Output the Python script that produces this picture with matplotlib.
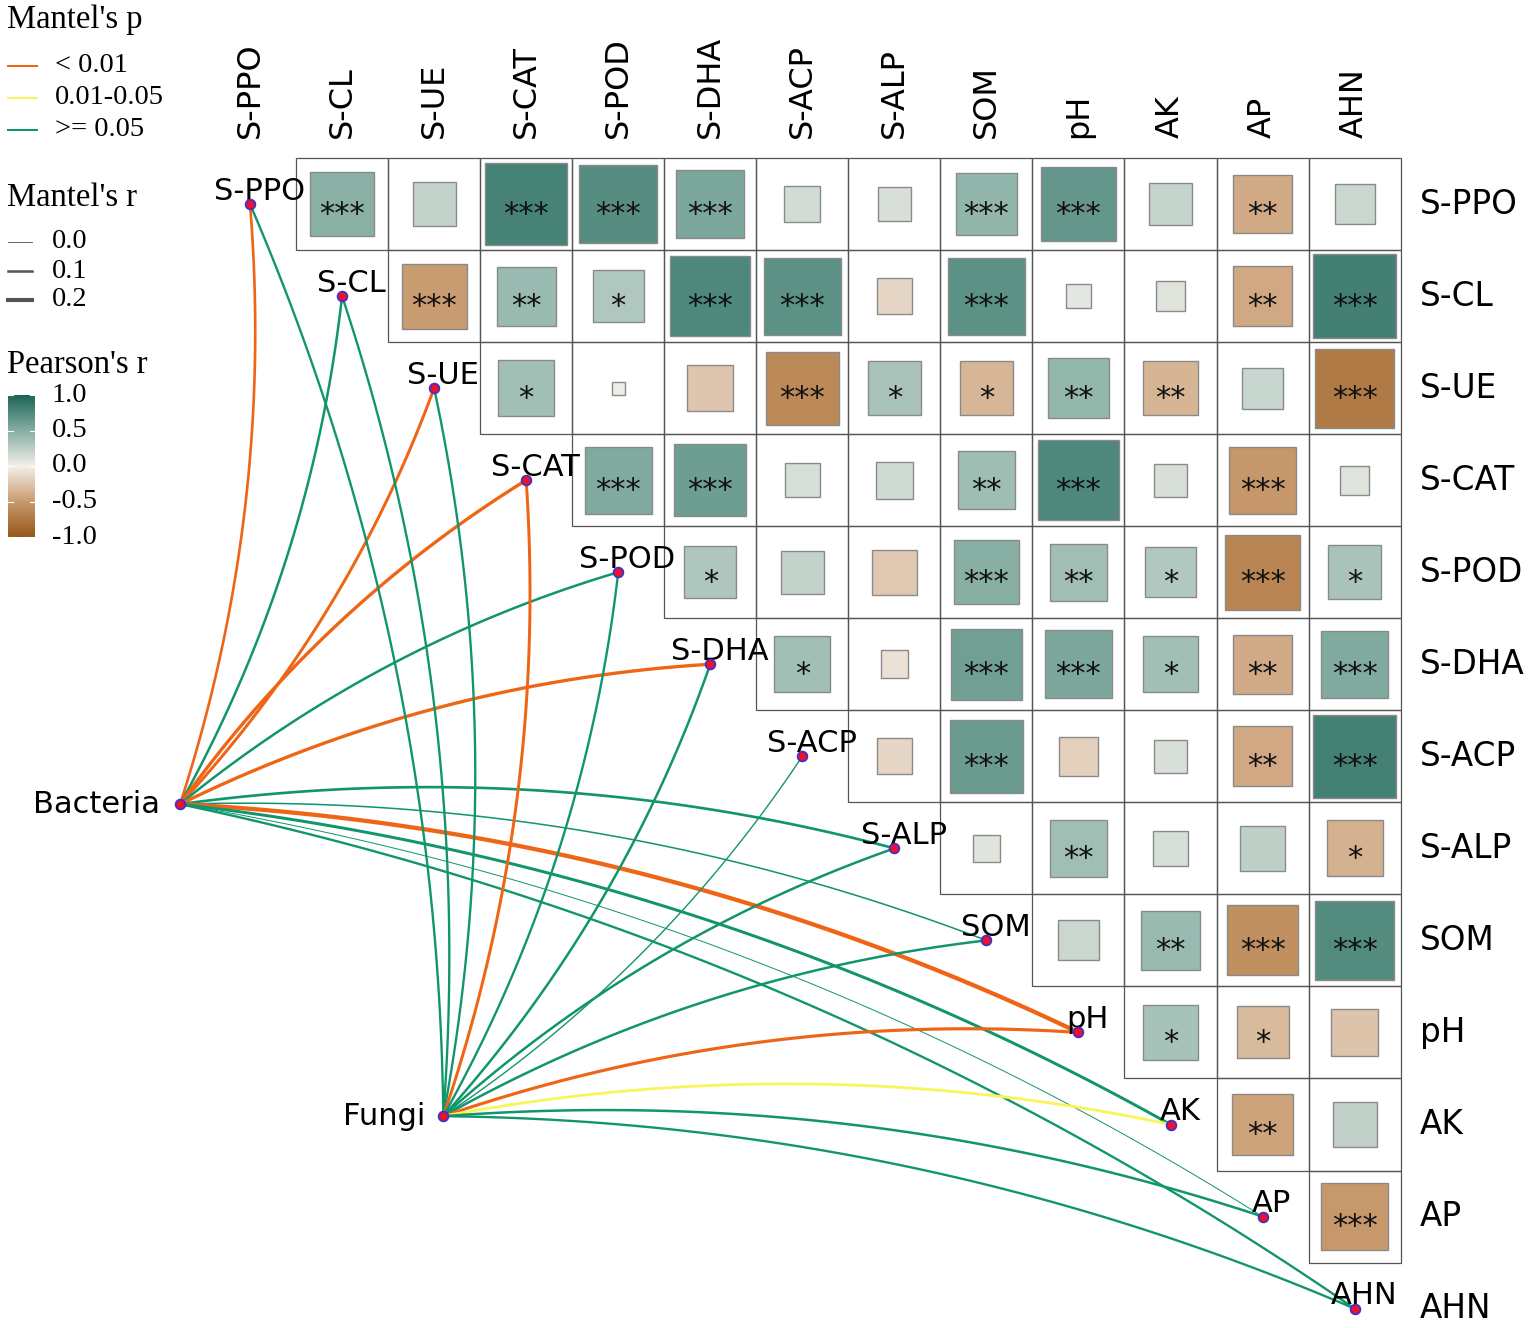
import numpy as np
import matplotlib
matplotlib.use("Agg")
import matplotlib.pyplot as plt
from matplotlib.colors import LinearSegmentedColormap, Normalize
from matplotlib.patches import Rectangle
from matplotlib.lines import Line2D

# ---------------- data ----------------
variables = ["S-PPO", "S-CL", "S-UE", "S-CAT", "S-POD", "S-DHA", "S-ACP",
             "S-ALP", "SOM", "pH", "AK", "AP", "AHN"]

# Pearson's r, upper triangle: row i holds values for columns i+1 .. end
r_ppo = [0.48, 0.22, 0.80, 0.72, 0.55, 0.15, 0.13, 0.44, 0.66, 0.21, -0.41, 0.19]
r_cl = [-0.50, 0.41, 0.31, 0.76, 0.70, -0.15, 0.70, 0.07, 0.10, -0.42, 0.82]
r_ue = [0.37, 0.02, -0.25, -0.63, 0.34, -0.34, 0.43, -0.35, 0.20, -0.74]
r_cat = [0.53, 0.61, 0.14, 0.16, 0.39, 0.76, 0.13, -0.53, 0.10]
r_pod = [0.32, 0.22, -0.24, 0.49, 0.38, 0.30, -0.66, 0.34]
r_dha = [0.37, -0.09, 0.60, 0.54, 0.37, -0.41, 0.53]
r_acp = [-0.15, 0.62, -0.18, 0.13, -0.42, 0.81]
r_alp = [0.09, 0.38, 0.14, 0.24, -0.37]
r_som = [0.19, 0.41, -0.58, 0.74]
r_ph = [0.35, -0.32, -0.26]
r_ak = [-0.45, 0.23]
r_ap = [-0.52]
r_rows = [r_ppo, r_cl, r_ue, r_cat, r_pod, r_dha, r_acp, r_alp, r_som, r_ph, r_ak, r_ap, []]

s_ppo = ["***", "", "***", "***", "***", "", "", "***", "***", "", "**", ""]
s_cl = ["***", "**", "*", "***", "***", "", "***", "", "", "**", "***"]
s_ue = ["*", "", "", "***", "*", "*", "**", "**", "", "***"]
s_cat = ["***", "***", "", "", "**", "***", "", "***", ""]
s_pod = ["*", "", "", "***", "**", "*", "***", "*"]
s_dha = ["*", "", "***", "***", "*", "**", "***"]
s_acp = ["", "***", "", "", "**", "***"]
s_alp = ["", "**", "", "", "*"]
s_som = ["", "**", "***", "***"]
s_ph = ["*", "*", ""]
s_ak = ["**", ""]
s_ap = ["***"]
star_rows = [s_ppo, s_cl, s_ue, s_cat, s_pod, s_dha, s_acp, s_alp, s_som, s_ph, s_ak, s_ap, []]

# Mantel test links
bac_env = ["S-PPO", "S-CL", "S-UE", "S-CAT", "S-POD", "S-DHA", "S-ALP",
           "SOM", "pH", "AK", "AP", "AHN"]
bac_r = [0.11, 0.10, 0.13, 0.15, 0.10, 0.15, 0.11, 0.04, 0.21, 0.13, 0.005, 0.09]
bac_p = ["< 0.01", ">= 0.05", "< 0.01", "< 0.01", ">= 0.05", "< 0.01", ">= 0.05",
         ">= 0.05", "< 0.01", ">= 0.05", ">= 0.05", ">= 0.05"]

fun_env = ["S-PPO", "S-CL", "S-UE", "S-CAT", "S-POD", "S-DHA", "S-ACP", "S-ALP",
           "SOM", "pH", "AK", "AP", "AHN"]
fun_r = [0.09, 0.09, 0.09, 0.13, 0.09, 0.10, 0.03, 0.10, 0.10, 0.14, 0.12, 0.10, 0.09]
fun_p = [">= 0.05", ">= 0.05", ">= 0.05", "< 0.01", ">= 0.05", ">= 0.05", ">= 0.05",
         ">= 0.05", ">= 0.05", "< 0.01", "0.01-0.05", ">= 0.05", ">= 0.05"]

p_levels = ["< 0.01", "0.01-0.05", ">= 0.05"]
p_colors = ["#EE6516", "#F8F55C", "#10956C"]
r_legend = [0.0, 0.1, 0.2]
cbar_ticks = [1.0, 0.5, 0.0, -0.5, -1.0]

# ---------------- layout ----------------
W, H = 1535, 1328
CELL = 92.05
X0, Y0 = 250, 204
n = len(variables)
bac_pos = (-0.76, -6.52)
fun_pos = (2.10, -9.91)

cmap = LinearSegmentedColormap.from_list(
    "pearson",
    [(0.0, "#965718"), (0.25, "#C99B70"), (0.5, "#F3F0EA"), (0.75, "#86AEA3"), (1.0, "#1D6558")])
norm = Normalize(-1, 1)

fig = plt.figure(figsize=(W / 100, H / 100), dpi=100)
ax = fig.add_axes([0, 0, 1, 1])
ax.set_xlim(-X0 / CELL, (W - X0) / CELL)
ax.set_ylim(-(H - Y0) / CELL, Y0 / CELL)
ax.axis("off")

LABEL_FONT = "DejaVu Sans"
SERIF = "Liberation Serif"


def px_to_lw(px):
    return px * 72 / 100


def r_to_lw(r):
    return px_to_lw(0.9 + 16 * r)


# heatmap
for i in range(n):
    for k, j in enumerate(range(i + 1, n)):
        r = r_rows[i][k]
        ax.add_patch(Rectangle((j - 0.5, -i - 0.5), 1, 1, fill=False,
                               edgecolor="#555555", lw=0.9, zorder=2))
        side = np.sqrt(abs(r))
        ax.add_patch(Rectangle((j - side / 2, -i - side / 2), side, side,
                               facecolor=cmap(norm(r)), edgecolor="#8a8a8a",
                               lw=1.0, zorder=3))
        st = star_rows[i][k]
        if st:
            ax.text(j, -i - 0.11, st, ha="center", va="center", fontsize=22,
                    family=LABEL_FONT, color="#111111", zorder=4)

# column labels (top) and row labels (right)
for j, name in enumerate(variables):
    ax.text(j, 0.72, name, rotation=90, ha="center", va="bottom",
            fontsize=23, family=LABEL_FONT)
for i, name in enumerate(variables):
    ax.text(12.71, -i, name, ha="left", va="center", fontsize=23.5,
            family=LABEL_FONT)

# mantel curves
def curve(p0, p1, k=0.1, m=80):
    p0 = np.array(p0, float)
    p1 = np.array(p1, float)
    d = p1 - p0
    L = np.hypot(*d)
    nrm = np.array([-d[1], d[0]]) / L
    if nrm[0] + nrm[1] < 0:
        nrm = -nrm
    c = (p0 + p1) / 2 + nrm * k * L
    t = np.linspace(0, 1, m)[:, None]
    pts = (1 - t) ** 2 * p0 + 2 * (1 - t) * t * c + t ** 2 * p1
    return pts[:, 0], pts[:, 1]


def diag(name):
    i = variables.index(name)
    return (i, -i)


for src, envs, rs, ps in [(bac_pos, bac_env, bac_r, bac_p),
                          (fun_pos, fun_env, fun_r, fun_p)]:
    for e, r, p in zip(envs, rs, ps):
        x, y = curve(src, diag(e))
        ax.plot(x, y, color=p_colors[p_levels.index(p)], lw=r_to_lw(r),
                solid_capstyle="round", zorder=5)

# diagonal labels and points
for i, name in enumerate(variables):
    ax.text(i + 0.1, -i + 0.14, name, ha="center", va="center", fontsize=22,
            family=LABEL_FONT, zorder=6)
pt_style = dict(marker="o", ms=7, mfc="#F0102A", mec="#4030C8", mew=1.3,
                ls="none", zorder=7)
ax.plot(np.arange(n), -np.arange(n), **pt_style)
ax.plot([bac_pos[0]], [bac_pos[1]], **pt_style)
ax.plot([fun_pos[0]], [fun_pos[1]], **pt_style)
ax.text(bac_pos[0] - 0.22, bac_pos[1], "Bacteria", ha="right", va="center",
        fontsize=22, family=LABEL_FONT)
ax.text(fun_pos[0] - 0.2, fun_pos[1], "Fungi", ha="right", va="center",
        fontsize=22, family=LABEL_FONT)

# ---------------- legends ----------------
def fx(px):
    return px / W


def fy(py):
    return 1 - py / H


fig.text(fx(7), fy(20), "Mantel's p", ha="left", va="center", fontsize=23.5, family=SERIF)
for k, (lab, col) in enumerate(zip(p_levels, p_colors)):
    yy = 66 + 32 * k
    fig.add_artist(Line2D([fx(8), fx(37)], [fy(yy)] * 2, transform=fig.transFigure,
                          color=col, lw=px_to_lw(2.0)))
    fig.text(fx(55), fy(yy), lab, ha="left", va="center", fontsize=20.5, family=SERIF)

fig.text(fx(7), fy(198), "Mantel's r", ha="left", va="center", fontsize=23.5, family=SERIF)
for k, rv in enumerate(r_legend):
    yy = 242 + 29 * k
    fig.add_artist(Line2D([fx(8), fx(32)], [fy(yy)] * 2, transform=fig.transFigure,
                          color="#555555", lw=r_to_lw(rv)))
    fig.text(fx(52), fy(yy), f"{rv:.1f}", ha="left", va="center", fontsize=20.5, family=SERIF)

fig.text(fx(7), fy(365), "Pearson's r", ha="left", va="center", fontsize=23.5, family=SERIF)
cax = fig.add_axes([fx(8), fy(537), (35 - 8) / W, (537 - 395) / H])
grad = np.linspace(-1, 1, 256)[:, None]
cax.imshow(grad, cmap=cmap, norm=norm, aspect="auto", origin="lower",
           extent=[0, 1, -1, 1])
for tv in cbar_ticks:
    cax.plot([0, 0.2], [tv, tv], color="white", lw=0.8)
    cax.plot([0.8, 1], [tv, tv], color="white", lw=0.8)
cax.set_xlim(0, 1)
cax.set_ylim(-1, 1)
cax.axis("off")
for tv in cbar_ticks:
    yy = 466 - tv * 71
    fig.text(fx(52), fy(yy), f"{tv:.1f}", ha="left", va="center", fontsize=20.5, family=SERIF)

fig.savefig("out.png", dpi=100, facecolor="white")
